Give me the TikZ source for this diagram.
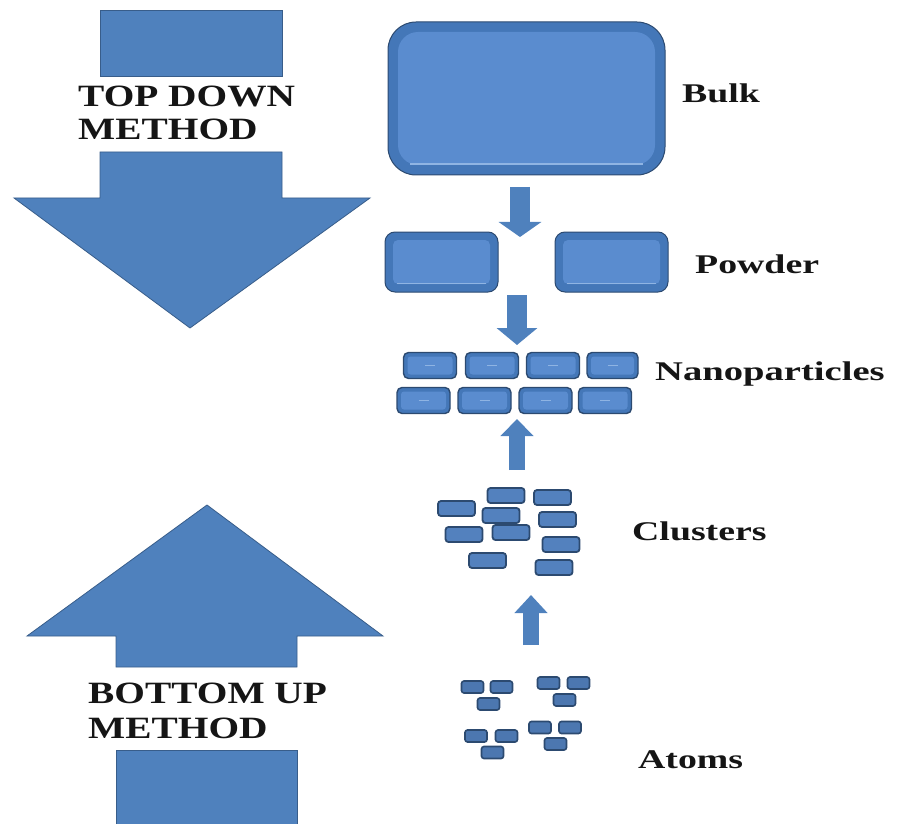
\documentclass[tikz,border=0pt]{standalone}
\usepackage{fontspec}
\setmainfont{Liberation Serif}
\usetikzlibrary{arrows.meta}
\definecolor{blu}{HTML}{4F81BD}
\definecolor{bluedge}{HTML}{385D8A}
\definecolor{bluin}{HTML}{5A8CCF}
\definecolor{bluout}{HTML}{4477B8}
\definecolor{bludark}{HTML}{2C4A70}
\definecolor{bluhi}{HTML}{8FB4E3}
\definecolor{txt}{HTML}{151515}
\tikzset{
  bigarrow/.style={fill=blu, draw=bluedge, line width=0.8pt, line join=miter},
  bevbig/.style={rectangle, draw=bludark, line width=1pt, fill=bluout, rounded corners=28pt, inner sep=0pt,
    path picture={\fill[bluin, rounded corners=20pt] ([shift={(10pt,-10pt)}]path picture bounding box.north west) rectangle ([shift={(-10pt,10pt)}]path picture bounding box.south east);
      \draw[bluhi, line width=1.2pt] ([shift={(22pt,11pt)}]path picture bounding box.south west) -- ([shift={(-22pt,11pt)}]path picture bounding box.south east);}},
  bevmed/.style={rectangle, draw=bludark, line width=1pt, fill=bluout, rounded corners=10pt, inner sep=0pt,
    path picture={\fill[bluin, rounded corners=5pt] ([shift={(8pt,-8pt)}]path picture bounding box.north west) rectangle ([shift={(-8pt,8pt)}]path picture bounding box.south east);
      \draw[bluhi, line width=1pt] ([shift={(12pt,9pt)}]path picture bounding box.south west) -- ([shift={(-12pt,9pt)}]path picture bounding box.south east);}},
  bevsmall/.style={rectangle, draw=bludark, line width=1.4pt, fill=bluout, rounded corners=5pt, inner sep=0pt,
    minimum width=53pt, minimum height=26pt,
    path picture={\fill[bluin, rounded corners=3pt] ([shift={(4pt,-4pt)}]path picture bounding box.north west) rectangle ([shift={(-4pt,4pt)}]path picture bounding box.south east);
      \draw[bluhi, line width=1pt] ([xshift=-5pt]path picture bounding box.center) -- ([xshift=5pt]path picture bounding box.center);}},
  clu/.style={rectangle, draw=bludark, line width=1.8pt, fill=bluin!92!black, rounded corners=3pt, inner sep=0pt,
    minimum width=37pt, minimum height=15pt},
  atm/.style={rectangle, draw=bludark, line width=1.6pt, fill=bluin!85!black, rounded corners=2.5pt, inner sep=0pt,
    minimum width=22pt, minimum height=12pt},
  lbl/.style={anchor=base west, inner sep=0pt, text=txt, font=\fontsize{27}{30}\selectfont\bfseries},
  mtxt/.style={anchor=base west, inner sep=0pt, text=txt, font=\fontsize{31}{33}\selectfont\bfseries},
  sarrow/.style={draw=blu, line width=#1},
}
\begin{document}
\begin{tikzpicture}[x=1pt,y=-1pt]
\useasboundingbox (0,0) rectangle (903,824);

% big top-down arrow
\fill[bigarrow] (100,10) rectangle (282,76);
\fill[bigarrow] (100,152) -- (282,152) -- (282,198) -- (370,198) -- (190,328) -- (14,198) -- (100,198) -- cycle;
\node[mtxt] (td1) at (78,107) {\scalebox{1.27}[1]{TOP DOWN}};
\node[mtxt] (td2) at (78,140) {\scalebox{1.27}[1]{METHOD}};

% big bottom-up arrow
\fill[bigarrow] (207,505) -- (383,636) -- (297,636) -- (297,667) -- (116,667) -- (116,636) -- (27,636) -- cycle;
\fill[bigarrow] (116,750) rectangle (297,830);
\node[mtxt] (bu1) at (88,703) {\scalebox{1.27}[1]{BOTTOM UP}};
\node[mtxt] (bu2) at (88,738) {\scalebox{1.27}[1]{METHOD}};

% bulk
\node[bevbig, minimum width=277pt, minimum height=153pt] (bulk) at (526.5,98.5) {};
% powder
\node[bevmed, minimum width=113pt, minimum height=60pt] (powl) at (441.5,262) {};
\node[bevmed, minimum width=113pt, minimum height=60pt] (powr) at (611.5,262) {};
% nanoparticles
\node[bevsmall] (n1) at (430,365.5) {};
\node[bevsmall] (n2) at (492,365.5) {};
\node[bevsmall] (n3) at (553,365.5) {};
\node[bevsmall, minimum width=51pt] (n4) at (612.5,365.5) {};
\node[bevsmall] (n5) at (423.5,400.5) {};
\node[bevsmall] (n6) at (484.5,400.5) {};
\node[bevsmall] (n7) at (545.5,400.5) {};
\node[bevsmall] (n8) at (605,400.5) {};
% clusters
\node[clu] (c1) at (506,495.5) {};
\node[clu] (c2) at (552.5,497.5) {};
\node[clu] (c3) at (456.5,508.5) {};
\node[clu] (c4) at (501,515.5) {};
\node[clu] (c5) at (557.5,519.5) {};
\node[clu] (c6) at (464,534.5) {};
\node[clu] (c7) at (511,532.5) {};
\node[clu] (c8) at (561,544.5) {};
\node[clu] (c9) at (487.5,560.5) {};
\node[clu] (c10) at (554,567.5) {};
% atoms
\node[atm] (a1) at (472.5,687) {};
\node[atm] (a2) at (501.5,687) {};
\node[atm] (a3) at (488.5,704) {};
\node[atm] (a4) at (548.5,683) {};
\node[atm] (a5) at (578.5,683) {};
\node[atm] (a6) at (564.5,700) {};
\node[atm] (a7) at (476,736) {};
\node[atm] (a8) at (506.5,736) {};
\node[atm] (a9) at (492.5,752.5) {};
\node[atm] (a10) at (540,727.5) {};
\node[atm] (a11) at (570,727.5) {};
\node[atm] (a12) at (555.5,744) {};

% labels
\node[lbl] (lb) at (682,103) {\scalebox{1.4}[1]{Bulk}};
\node[lbl] (lp) at (695,273) {\scalebox{1.4}[1]{Powder}};
\node[lbl] (ln) at (655,380) {\scalebox{1.43}[1]{Nanoparticles}};
\node[lbl] (lc) at (632,540) {\scalebox{1.4}[1]{Clusters}};
\node[lbl] (la) at (638,768) {\scalebox{1.4}[1]{Atoms}};

% small connector arrows
\coordinate (k1s) at (520,187); \coordinate (k1e) at (520,237);
\coordinate (k2s) at (517,295); \coordinate (k2e) at (517,345);
\coordinate (k3s) at (517,470); \coordinate (k3e) at (517,419);
\coordinate (k4s) at (531,645); \coordinate (k4e) at (531,595);
\draw[sarrow=20pt, -{Triangle[width=42pt,length=15pt,fill=blu]}] (k1s) -- (k1e);
\draw[sarrow=20pt, -{Triangle[width=40pt,length=17pt,fill=blu]}] (k2s) -- (k2e);
\draw[sarrow=16pt, -{Triangle[width=32pt,length=17pt,fill=blu]}] (k3s) -- (k3e);
\draw[sarrow=16pt, -{Triangle[width=32pt,length=18pt,fill=blu]}] (k4s) -- (k4e);
\end{tikzpicture}
\end{document}
